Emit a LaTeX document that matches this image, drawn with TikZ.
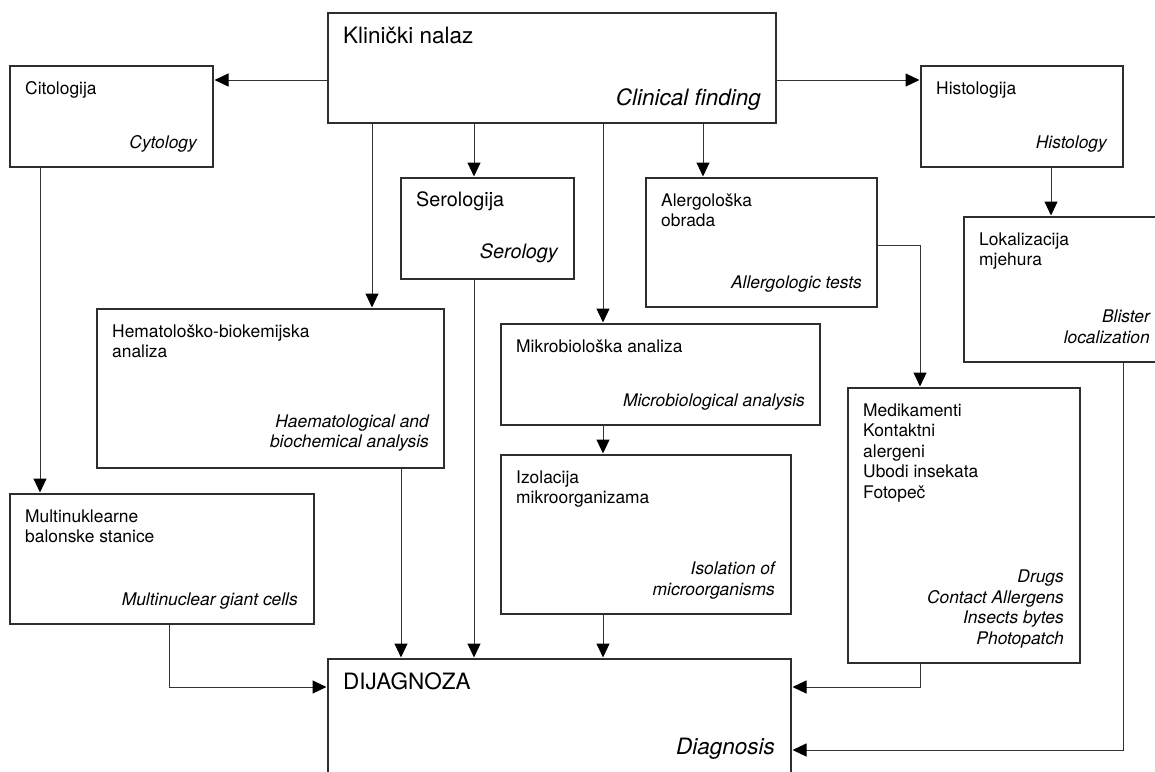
\documentclass[tikz,border=0pt]{standalone}
\usepackage{fontspec}
\setmainfont{TeX Gyre Heros}
\usetikzlibrary{arrows.meta}
\newcommand\smf{\fontsize{17.4}{20.5}\selectfont}
\newcommand\sef{\fontsize{19.8}{23}\selectfont}
\newcommand\lgf{\fontsize{22.5}{27}\selectfont}
\begin{document}
\begin{tikzpicture}[x=1pt,y=-1pt,
  box/.style={draw=black!82, line width=1.4pt, inner sep=0pt, outer sep=0pt},
  tt/.style={anchor=north west, inner sep=0pt, align=left, font=\smf, xshift=15pt, yshift=-13.65pt},
  bt/.style={anchor=south east, inner sep=0pt, align=right, font=\smf\itshape, xshift=-16pt, yshift=12.35pt},
  ln/.style={draw=black!80, line width=1pt},
  arr/.style={ln, -{Triangle[length=14pt,width=13pt,color=black]}, shorten >=1.5pt}]
\useasboundingbox[fill=white] (0,0) rectangle (1155,771);

% boxes
\node[box, minimum width=448pt, minimum height=110pt] (kn)  at (552,68) {};
\node[box, minimum width=203pt, minimum height=101pt] (cit) at (111.5,116.5) {};
\node[box, minimum width=202pt, minimum height=101pt] (his) at (1022,116.5) {};
\node[box, minimum width=202pt, minimum height=145pt] (lok) at (1065,289.5) {};
\node[box, minimum width=173pt, minimum height=101pt] (ser) at (487.5,228.5) {};
\node[box, minimum width=231pt, minimum height=129pt] (ale) at (761.5,242.5) {};
\node[box, minimum width=347pt, minimum height=159pt] (hem) at (270.5,388.5) {};
\node[box, minimum width=319pt, minimum height=101pt] (mik) at (660.5,374.5) {};
\node[box, minimum width=290pt, minimum height=159pt] (izo) at (646,534.5) {};
\node[box, minimum width=232pt, minimum height=275pt] (med) at (964,525.5) {};
\node[box, minimum width=304pt, minimum height=130pt] (mul) at (162,559) {};
\node[box, minimum width=463pt, minimum height=141pt] (dia) at (559.5,729.5) {};

% texts
\node[tt, font=\lgf, yshift=2.55pt] (knT) at (kn.north west) {\strut Klinički nalaz};
\node[bt, font=\lgf\itshape, xshift=1pt, yshift=-2.95pt] (knB) at (kn.south east) {Clinical finding\strut};
\node[tt] (citT) at (cit.north west) {\strut Citologija};
\node[bt] (citB) at (cit.south east) {Cytology\strut};
\node[tt] (hisT) at (his.north west) {\strut Histologija};
\node[bt] (hisB) at (his.south east) {Histology\strut};
\node[tt] (lokT) at (lok.north west) {\strut Lokalizacija\\mjehura};
\node[bt] (lokB) at (lok.south east) {Blister\\localization\strut};
\node[tt, font=\sef, yshift=1.05pt] (serT) at (ser.north west) {\strut Serologija};
\node[bt, font=\sef\itshape, yshift=0.75pt] (serB) at (ser.south east) {Serology\strut};
\node[tt] (aleT) at (ale.north west) {\strut Alergološka\\obrada};
\node[bt, xshift=1pt] (aleB) at (ale.south east) {Allergologic tests\strut};
\node[tt] (hemT) at (hem.north west) {\strut Hematološko-biokemijska\\analiza};
\node[bt, xshift=1pt, yshift=1.5pt] (hemB) at (hem.south east) {Haematological and\\biochemical analysis\strut};
\node[tt] (mikT) at (mik.north west) {\strut Mikrobiološka analiza};
\node[bt, xshift=1pt] (mikB) at (mik.south east) {Microbiological analysis\strut};
\node[tt] (izoT) at (izo.north west) {\strut Izolacija\\mikroorganizama};
\node[bt] (izoB) at (izo.south east) {Isolation of\\microorganisms\strut};
\node[tt] (medT) at (med.north west) {\strut Medikamenti\\Kontaktni\\alergeni\\Ubodi insekata\\Fotopeč};
\node[bt] (medB) at (med.south east) {Drugs\\Contact Allergens\\Insects bytes\\Photopatch\strut};
\node[tt] (mulT) at (mul.north west) {\strut Multinuklearne\\balonske stanice};
\node[bt] (mulB) at (mul.south east) {Multinuclear giant cells\strut};
\node[tt, font=\lgf, yshift=2.55pt] (diaT) at (dia.north west) {\strut DIJAGNOZA};
\node[anchor=base east, inner sep=0pt, font=\lgf\itshape, xshift=-16pt, yshift=-95pt] (diaB) at (dia.north east) {Diagnosis};

% guide coordinates
\coordinate (x40) at (40,0);
\coordinate (x169) at (169,0);
\coordinate (x372) at (372,0);
\coordinate (x401) at (401,0);
\coordinate (x474) at (474,0);
\coordinate (x603) at (603,0);
\coordinate (x703) at (703,0);
\coordinate (x920) at (920,0);
\coordinate (x1051) at (1051,0);
\coordinate (x1123) at (1123,0);
\coordinate (y80) at (0,80);
\coordinate (y245) at (0,245);
\coordinate (y687) at (0,687);
\coordinate (y750) at (0,750);

% connectors
\draw[arr] (kn.west |- y80) -- (cit.east |- y80);
\draw[arr] (kn.east |- y80) -- (his.west |- y80);
\draw[arr] (kn.south -| x372) -- (hem.north -| x372);
\draw[arr] (kn.south -| x474) -- (ser.north -| x474);
\draw[arr] (kn.south -| x603) -- (mik.north -| x603);
\draw[arr] (kn.south -| x703) -- (ale.north -| x703);
\draw[arr] (his.south -| x1051) -- (lok.north -| x1051);
\draw[arr] (cit.south -| x40) -- (mul.north -| x40);
\draw[arr] (ale.east |- y245) -| (med.north -| x920);
\draw[arr] (mik.south -| x603) -- (izo.north -| x603);
\draw[arr] (izo.south -| x603) -- (dia.north -| x603);
\draw[arr] (ser.south -| x474) -- (dia.north -| x474);
\draw[arr] (hem.south -| x401) -- (dia.north -| x401);
\draw[arr] (mul.south -| x169) |- (dia.west |- y687);
\draw[arr] (med.south -| x920) |- (dia.east |- y687);
\draw[arr] (lok.south -| x1123) |- (dia.east |- y750);
\end{tikzpicture}
\end{document}
